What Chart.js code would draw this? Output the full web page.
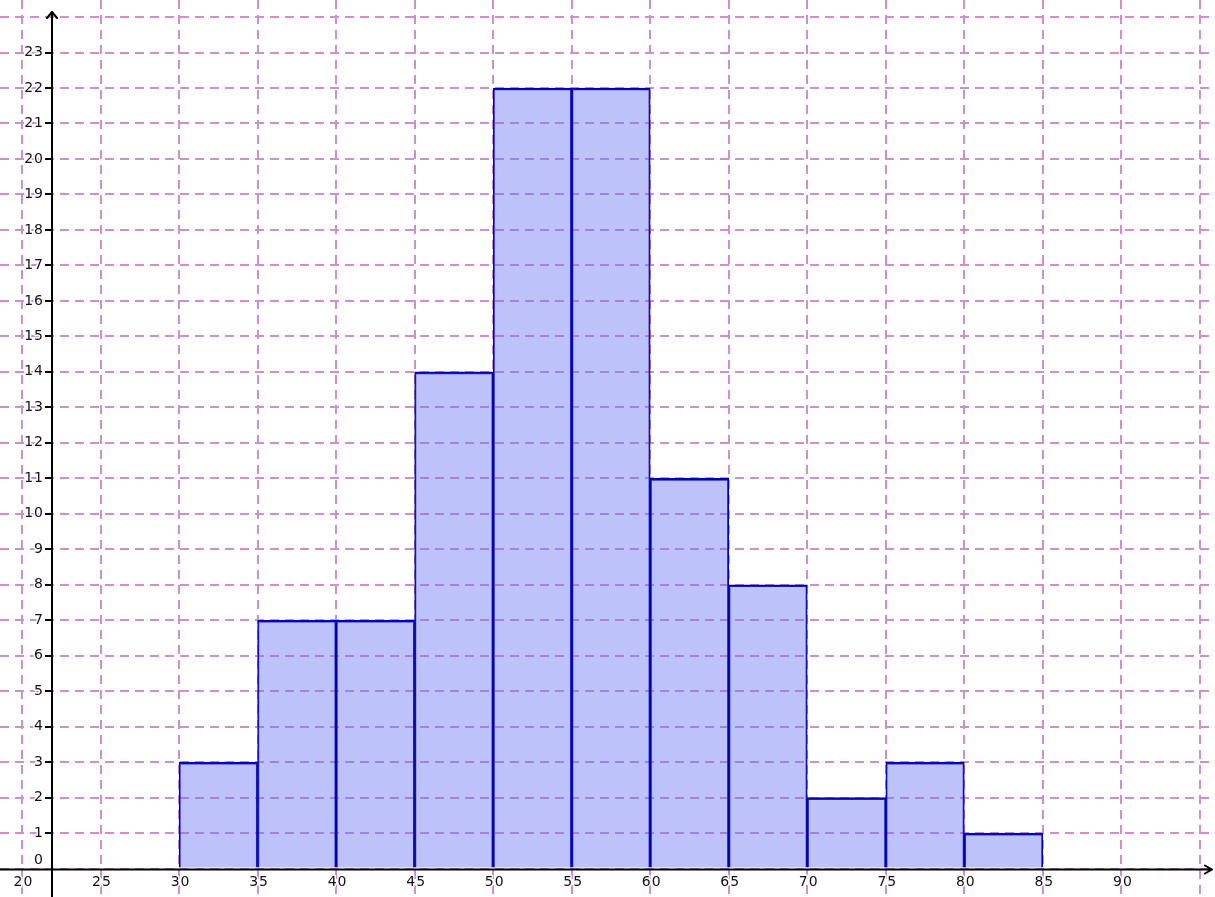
<!DOCTYPE html>
<html>
<head>
<meta charset="utf-8">
<script src="https://cdn.jsdelivr.net/npm/chart.js@4.4.0/dist/chart.umd.min.js"></script>
<style>
html, body { margin: 0; padding: 0; background: #fff; }
#wrap { width: 1215px; height: 897px; }
</style>
</head>
<body>
<div id="wrap"><canvas id="histo"></canvas></div>
<script>
// histogram bins (start of each class, width 5)
const binStarts = [30, 35, 40, 45, 50, 55, 60, 65, 70, 75, 80];
const binWidth = 5;
const counts = [3, 7, 7, 14, 22, 22, 11, 8, 2, 3, 1];

const xTicks = [20, 25, 30, 35, 40, 45, 50, 55, 60, 65, 70, 75, 80, 85, 90, 95];
const xLabels = [20, 25, 30, 35, 40, 45, 50, 55, 60, 65, 70, 75, 80, 85, 90];
const yTicks = [0, 1, 2, 3, 4, 5, 6, 7, 8, 9, 10, 11, 12, 13, 14, 15, 16, 17, 18, 19, 20, 21, 22, 23, 24];
const yLabels = [0, 1, 2, 3, 4, 5, 6, 7, 8, 9, 10, 11, 12, 13, 14, 15, 16, 17, 18, 19, 20, 21, 22, 23];

const gridColor = '#cf8fcf';
const yAxisAt = 21.9;

let points = binStarts.map((s, i) => ({ x: s + binWidth / 2, y: counts[i] }));

function label(ctx, txt, x, y) {
    ctx.strokeText(txt, x, y);
    ctx.fillText(txt, x, y);
}

const axesPlugin = {
    id: 'axesPlugin',
    afterDraw(chart) {
        const ctx = chart.ctx;
        const xs = chart.scales.x;
        const ys = chart.scales.y;
        const x0 = Math.round(xs.getPixelForValue(yAxisAt));
        const y0 = Math.round(ys.getPixelForValue(0)) + 0.5;

        ctx.save();
        ctx.strokeStyle = '#000';
        ctx.lineWidth = 2;
        ctx.lineCap = 'round';
        ctx.lineJoin = 'round';

        // x axis + arrow
        ctx.beginPath();
        ctx.moveTo(0, y0);
        ctx.lineTo(1212, y0);
        ctx.moveTo(1205, y0 - 4);
        ctx.lineTo(1212, y0);
        ctx.lineTo(1205, y0 + 4);
        ctx.stroke();

        // y axis + arrow
        ctx.beginPath();
        ctx.moveTo(x0, 897);
        ctx.lineTo(x0, 12);
        ctx.moveTo(x0 - 5, 18);
        ctx.lineTo(x0, 12);
        ctx.lineTo(x0 + 5, 18);
        ctx.stroke();

        // tick labels (white halo so the dashed grid does not cross them)
        ctx.fillStyle = '#111';
        ctx.strokeStyle = '#fff';
        ctx.lineWidth = 3;
        ctx.font = '14px "DejaVu Sans"';
        ctx.letterSpacing = '1px';
        ctx.textBaseline = 'middle';

        ctx.textAlign = 'center';
        xLabels.forEach(v => {
            label(ctx, String(v), xs.getPixelForValue(v) + 1.5, y0 + 13);
        });

        ctx.textAlign = 'right';
        yLabels.forEach(v => {
            let py = ys.getPixelForValue(v);
            if (v === 0) py -= 8;
            label(ctx, String(v), x0 - 8, py);
        });
        ctx.restore();
    }
};

new Chart(document.getElementById('histo'), {
    type: 'bar',
    data: {
        datasets: [{
            data: points,
            backgroundColor: 'rgba(100, 110, 245, 0.42)',
            borderColor: '#0000b0',
            borderWidth: { top: 2, left: 1.3, right: 1.3, bottom: 0 },
            borderSkipped: false,
            barPercentage: 1,
            categoryPercentage: 1,
            grouped: false
        }]
    },
    options: {
        responsive: true,
        maintainAspectRatio: false,
        animation: false,
        layout: { padding: 0 },
        plugins: {
            legend: { display: false },
            tooltip: { enabled: false }
        },
        scales: {
            x: {
                type: 'linear',
                min: 18.6,
                max: 95.96,
                offset: false,
                position: { y: 0 },
                afterBuildTicks: scale => { scale.ticks = xTicks.map(v => ({ value: v })); },
                ticks: { display: false },
                grid: { color: gridColor, lineWidth: 2, drawTicks: false, offset: false },
                border: { display: false, dash: [9, 6] }
            },
            y: {
                type: 'linear',
                min: -0.8,
                max: 24.48,
                position: { x: yAxisAt },
                afterBuildTicks: scale => { scale.ticks = yTicks.map(v => ({ value: v })); },
                ticks: { display: false },
                grid: {
                    color: gridColor,
                    lineWidth: 2,
                    drawTicks: true,
                    tickLength: 7,
                    tickWidth: 2,
                    tickColor: c => (c.tick && (c.tick.value === 0 || c.tick.value === 24)) ? 'rgba(0,0,0,0)' : '#000'
                },
                border: { display: false, dash: [9, 6] }
            }
        }
    },
    plugins: [axesPlugin]
});
</script>
</body>
</html>
